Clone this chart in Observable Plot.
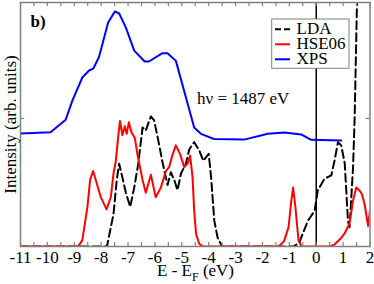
<!DOCTYPE html>
<html>
<head>
<meta charset="utf-8">
<script src="https://cdn.jsdelivr.net/npm/d3@7"></script>
<script src="https://cdn.jsdelivr.net/npm/@observablehq/plot@0.6"></script>
<style>
  html, body { margin: 0; padding: 0; background: white; }
  #chart svg { display: block; }
</style>
</head>
<body>
<div id="chart"></div>
<script>
// ---- data ----
const xpsE = [-11, -9.88, -9.32, -9.07, -8.70, -8.45, -8.29, -8.08, -7.74, -7.49, -7.33, -7.08, -6.77, -6.38, -6.22, -5.72, -5.53, -5.22, -4.54, -4.29, -3.80, -2.68, -1.80, -1.18, -0.56, -0.19, 0.93];
const xpsI = [0.883, 0.893, 0.99, 1.14, 1.32, 1.375, 1.39, 1.48, 1.75, 1.836, 1.82, 1.71, 1.53, 1.445, 1.445, 1.51, 1.51, 1.45, 0.93, 0.88, 0.84, 0.835, 0.88, 0.89, 0.875, 0.833, 0.828];

const hseE = [-11, -8.85, -8.7, -8.51, -8.41, -8.3, -8.2, -8.02, -7.8, -7.64, -7.54, -7.46, -7.37, -7.30, -7.21, -7.12, -7.05, -6.97, -6.87, -6.75, -6.65, -6.46, -6.34, -6.15, -5.97, -5.78, -5.59, -5.47, -5.34, -5.22, -5.06, -4.91, -4.78, -4.69, -4.60, -4.54, -4.47, -4.35, -4.2, -1.4, -1.2, -1.03, -0.93, -0.86, -0.78, -0.66, -0.55, 0.5, 0.68, 0.9, 1.05, 1.24, 1.37, 1.49, 1.6, 1.70, 1.80, 1.93, 2.0];
const hseI = [0, 0, 0.05, 0.31, 0.52, 0.59, 0.52, 0.39, 0.29, 0.385, 0.57, 0.66, 0.85, 0.98, 0.87, 0.94, 0.88, 0.97, 0.89, 0.85, 0.72, 0.52, 0.42, 0.56, 0.385, 0.46, 0.59, 0.62, 0.72, 0.79, 0.72, 0.62, 0.65, 0.71, 0.54, 0.28, 0.10, 0.02, 0, 0, 0.04, 0.15, 0.35, 0.46, 0.32, 0.05, 0, 0, 0.015, 0.06, 0.10, 0.18, 0.36, 0.46, 0.44, 0.41, 0.33, 0.16, 0.28];

const ldaE = [-11, -7.8, -7.77, -7.54, -7.42, -7.33, -7.21, -7.08, -6.92, -6.77, -6.62, -6.46, -6.34, -6.25, -6.15, -6.03, -5.90, -5.72, -5.53, -5.41, -5.28, -5.16, -5.03, -4.85, -4.72, -4.54, -4.35, -4.20, -4.00, -3.91, -3.79, -3.67, -3.5, -0.85, -0.62, -0.56, -0.31, -0.06, 0.06, 0.31, 0.56, 0.68, 0.81, 0.93, 1.06, 1.18, 1.24, 1.37, 1.43, 1.52, 1.6];
const ldaI = [0, 0, 0.015, 0.255, 0.52, 0.646, 0.54, 0.42, 0.31, 0.46, 0.646, 0.93, 0.905, 0.96, 1.016, 0.985, 0.855, 0.66, 0.48, 0.58, 0.52, 0.44, 0.57, 0.646, 0.76, 0.815, 0.75, 0.67, 0.724, 0.54, 0.2, 0.07, 0, 0, 0.03, 0.07, 0.2, 0.28, 0.44, 0.53, 0.555, 0.67, 0.815, 0.79, 0.65, 0.2, 0.15, 0.62, 1.01, 1.95, 2.6];

const seriesNames = ["LDA", "HSE06", "XPS"];
const xTickLabels = [-11, -10, -9, -8, -7, -6, -5, -4, -3, -2, -1, 0, 1, 2];
const xMinorTicks = [-11, -10.5, -10, -9.5, -9, -8.5, -8, -7.5, -7, -6.5, -6, -5.5, -5, -4.5, -4, -3.5, -3, -2.5, -2, -1.5, -1, -0.5, 0, 0.5, 1, 1.5, 2];
const yTicks = [1];
const panelLabel = "b)";
const photonLabel = "hν = 1487 eV";
const yLabel = "Intensity (arb. units)";

// ---- tables ----
const xps = xpsE.map((e, i) => ({e, v: xpsI[i]}));
const hse = hseE.map((e, i) => ({e, v: hseI[i]}));
const lda = ldaE.map((e, i) => ({e, v: ldaI[i]}));

const FONT = "'Liberation Serif', 'Times New Roman', serif";
const GRAY = "#808080";

const chart = Plot.plot({
  width: 374,
  height: 284,
  marginLeft: 20,
  marginRight: 4.5,
  marginTop: 2,
  marginBottom: 38,
  style: {fontFamily: FONT, fontSize: "17px", background: "white", color: "black"},
  x: {domain: [-11, 2]},
  y: {domain: [0, 1.906], axis: null},
  marks: [
    Plot.axisX(xTickLabels, {anchor: "bottom", tickSize: 0, tickPadding: 4, tickFormat: d => String(d), label: null, fontSize: 17}),
    Plot.ruleX([0], {stroke: "black", strokeWidth: 1.5}),
    Plot.line(lda, {x: "e", y: "v", stroke: "black", strokeWidth: 2, strokeDasharray: "8,4", clip: true}),
    Plot.line(hse, {x: "e", y: "v", stroke: "#ff0000", strokeWidth: 2, clip: true}),
    Plot.line(xps, {x: "e", y: "v", stroke: "#0000ff", strokeWidth: 2, clip: true}),
    Plot.tickX(xMinorTicks, {x: d => d, insetTop: 240, stroke: GRAY, strokeWidth: 1.2}),
    Plot.tickX(xMinorTicks, {x: d => d, insetBottom: 240, stroke: GRAY, strokeWidth: 1.2}),
    Plot.tickY(yTicks, {y: d => d, insetRight: 345.5, stroke: GRAY, strokeWidth: 1.2}),
    Plot.tickY(yTicks, {y: d => d, insetLeft: 345.5, stroke: GRAY, strokeWidth: 1.2}),
    Plot.frame({stroke: GRAY, strokeWidth: 1.5}),
    Plot.text([panelLabel], {frameAnchor: "top-left", dx: 10, dy: 19, textAnchor: "start", lineAnchor: "middle", fontWeight: "bold", fontSize: 17}),
    Plot.text([photonLabel], {frameAnchor: "top-left", dx: 176.5, dy: 96, textAnchor: "start", lineAnchor: "middle", fontSize: 17}),
    Plot.text([yLabel], {frameAnchor: "left", dx: -10, rotate: -90, textAnchor: "middle", lineAnchor: "middle", fontSize: 17})
  ]
});

document.getElementById("chart").appendChild(chart);

// ---- x-axis label with subscript, and legend ----
const svg = d3.select(chart);
const xl = svg.append("text")
  .attr("x", 157).attr("y", 275.5).attr("text-anchor", "start")
  .attr("font-family", FONT).attr("font-size", 17).attr("fill", "black");
xl.append("tspan").text("E - E");
xl.append("tspan").attr("dy", 5).attr("font-size", 12).text("F");
xl.append("tspan").attr("dy", -5).text(" (eV)");

const lg = svg.append("g");
lg.append("rect").attr("x", 271.7).attr("y", 19).attr("width", 77.3).attr("height", 49.3)
  .attr("fill", "white").attr("stroke", GRAY).attr("stroke-width", 1);
const legendStyles = [
  {stroke: "black", dash: "6,3"},
  {stroke: "#ff0000", dash: null},
  {stroke: "#0000ff", dash: null}
];
seriesNames.forEach((name, i) => {
  const cy = 29.3 + i * 15;
  const ln = lg.append("line").attr("x1", 275).attr("x2", 290).attr("y1", cy).attr("y2", cy)
    .attr("stroke", legendStyles[i].stroke).attr("stroke-width", 2);
  if (legendStyles[i].dash) ln.attr("stroke-dasharray", legendStyles[i].dash);
  lg.append("text").attr("x", 296.5).attr("y", cy + 5).attr("text-anchor", "start")
    .attr("font-family", FONT).attr("font-size", 17).attr("fill", "black").text(name);
});
</script>
</body>
</html>
